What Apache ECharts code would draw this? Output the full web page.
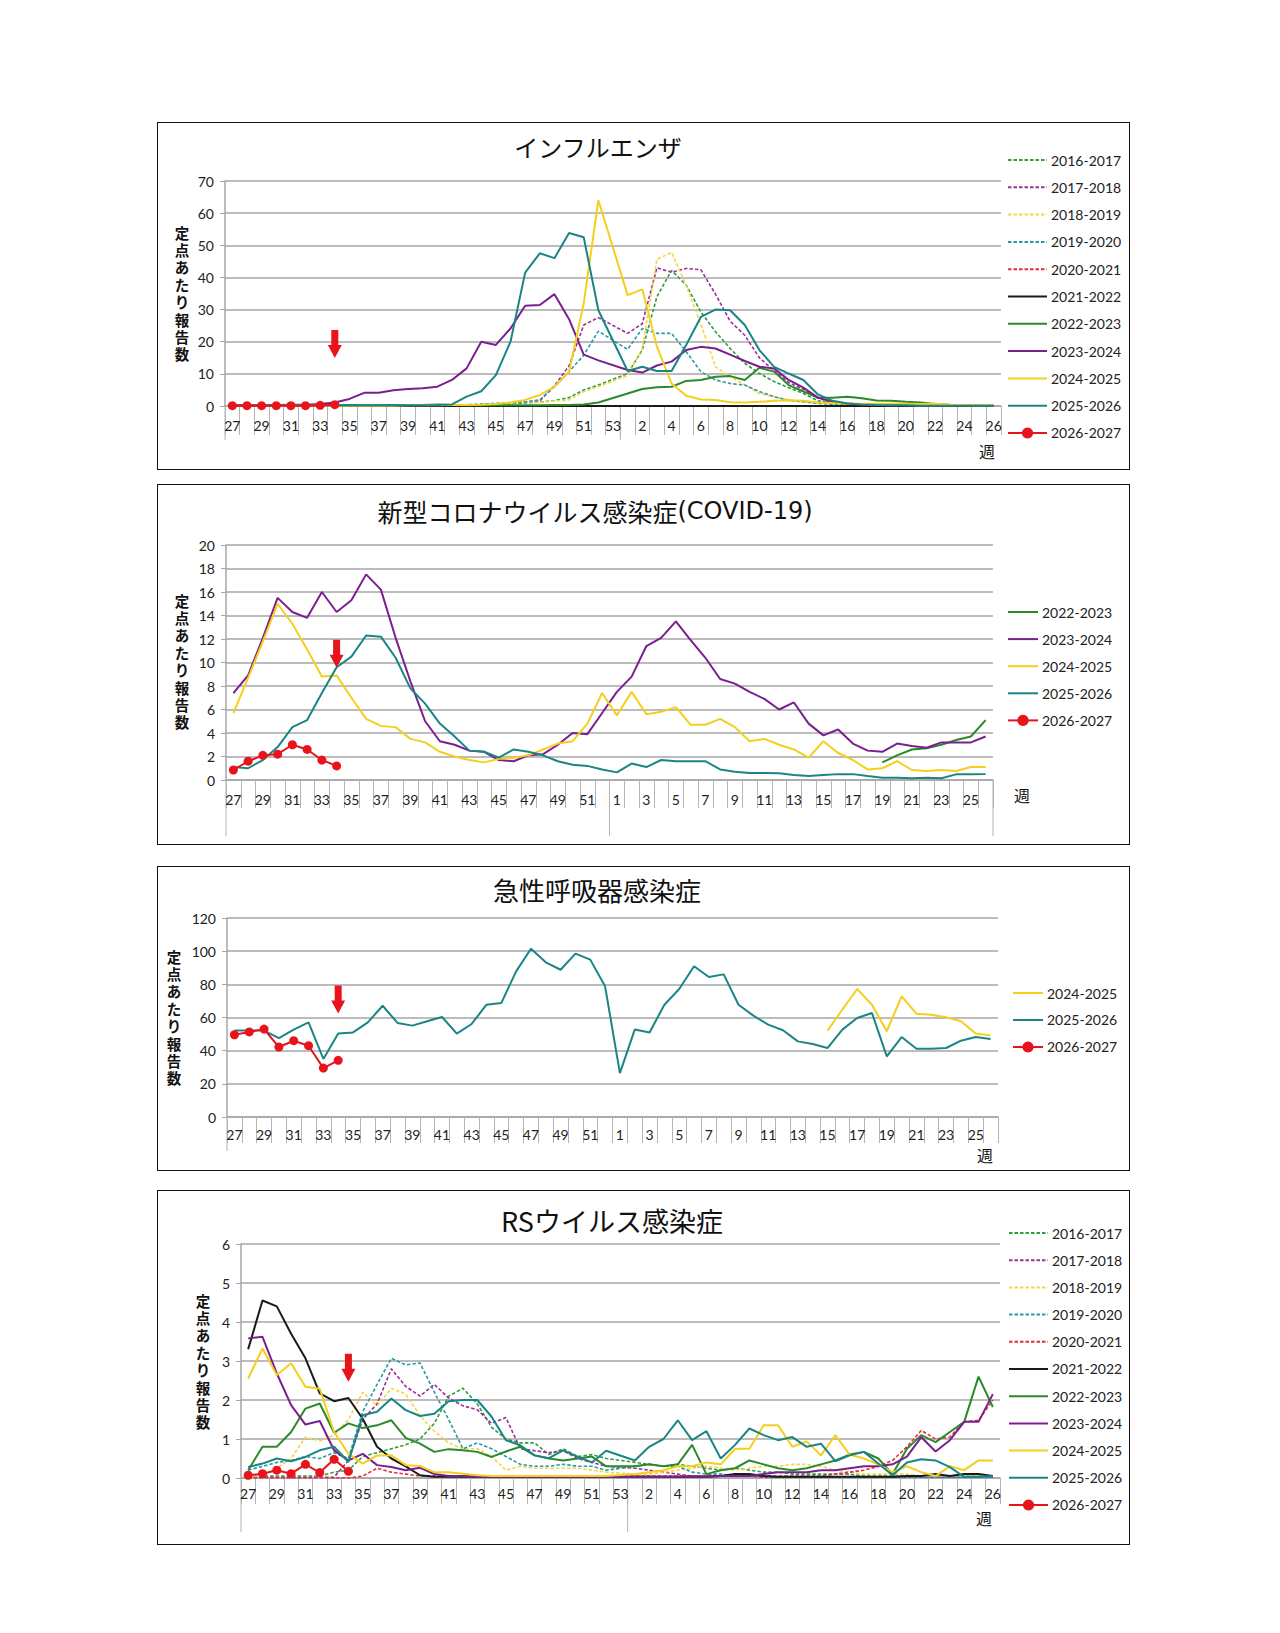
<!DOCTYPE html>
<html lang="ja">
<head>
<meta charset="utf-8">
<title>定点あたり報告数</title>
<script src="https://cdn.jsdelivr.net/npm/echarts@6/dist/echarts.min.js"></script>
<style>
  html, body { margin: 0; padding: 0; background: #fff; }
  body { width: 1280px; height: 1633px; position: relative; overflow: hidden; }
  .chart { position: absolute; }
  .frame { position: absolute; border: 1.6px solid #111; box-sizing: border-box; pointer-events: none; }
</style>
</head>
<body>
<script>
// week categories (with and without week 53)
const weeksA = ['27','28','29','30','31','32','33','34','35','36','37','38','39','40','41','42','43','44','45','46','47','48','49','50','51','52','53',
  '1','2','3','4','5','6','7','8','9','10','11','12','13','14','15','16','17','18','19','20','21','22','23','24','25','26'];
const weeksB = ['27','28','29','30','31','32','33','34','35','36','37','38','39','40','41','42','43','44','45','46','47','48','49','50','51','52',
  '1','2','3','4','5','6','7','8','9','10','11','12','13','14','15','16','17','18','19','20','21','22','23','24','25','26'];

// インフルエンザ (weeks 27..53 / 1..26)
const flu1617 = [0.1,0.1,0.1,0.1,0.1,0.1,0.1,0.1,0.1,0.1,0.1,0.1,0.1,0.1,0.2,0.2,0.3,0.4,0.5,0.7,1.0,1.2,1.7,2.6,5.0,6.5,null,
  10.1,17.4,34.0,42.2,37.6,29.3,23.1,17.9,13.3,10.1,7.6,5.7,3.9,1.6,1.1,0.8,0.5,0.4,0.3,0.3,0.2,0.2,0.1,0.1,0.1,0.1];
const flu1718 = [0.1,0.1,0.1,0.1,0.1,0.1,0.1,0.1,0.1,0.1,0.1,0.1,0.1,0.1,0.2,0.2,0.3,0.4,0.6,0.8,1.1,1.6,6.3,12.5,25.2,27.5,null,
  22.6,25.6,43.0,41.6,42.8,42.4,34.8,26.4,22.0,15.0,11.0,7.3,5.2,2.4,1.1,0.8,0.5,0.3,0.3,0.2,0.2,0.1,0.1,0.1,0.1,0.1];
const flu1819 = [0.1,0.1,0.1,0.1,0.1,0.1,0.1,0.1,0.1,0.1,0.1,0.1,0.1,0.1,0.1,0.1,0.2,0.3,0.5,0.8,1.3,1.1,1.6,1.9,4.5,6.0,null,
  9.5,17.9,45.6,47.8,37.5,25.5,12.2,9.2,6.5,3.9,2.9,1.9,1.3,1.0,0.7,0.5,0.4,0.3,0.3,0.2,0.2,0.2,0.1,0.1,0.1,0.1];
const flu1920 = [0.1,0.1,0.1,0.1,0.1,0.1,0.1,0.1,0.1,0.1,0.1,0.1,0.1,0.1,0.2,0.3,0.4,0.6,0.8,1.0,1.3,1.9,6.0,10.7,15.8,23.3,null,
  17.6,24.1,22.6,22.6,16.9,10.7,8.1,7.0,6.5,4.5,2.9,1.7,1.3,0.8,0.5,0.3,0.2,0.1,0.1,0.1,0.1,0.1,0.1,0.1,0.1,0.1];
const flu2021 = [0,0,0,0,0,0,0,0,0,0,0,0,0,0,0,0,0,0,0,0,0,0,0,0,0,0,0,
  0,0,0,0,0,0,0,0,0,0,0,0,0,0,0,0,0,0,0,0,0,0,0,0,0,0];
const flu2122 = [0,0,0,0,0,0,0,0,0,0,0,0,0,0,0,0,0,0,0,0,0,0,0,0,0,0,null,
  0,0,0,0,0,0,0,0,0,0,0,0,0,0,0,0,0,0,0,0,0,0,0,0,0,0];
const flu2223 = [0.1,0.1,0.1,0.1,0.1,0.1,0.1,0.2,0.2,0.2,0.2,0.3,0.3,0.3,0.5,0.3,0.2,0.2,0.2,0.2,0.2,0.2,0.3,0.3,0.5,1.1,null,
  3.9,5.3,5.8,6.0,7.8,8.1,9.1,9.3,8.1,11.9,10.7,6.5,4.5,2.6,2.6,2.9,2.4,1.7,1.6,1.3,1.1,0.6,0.4,0.3,0.1,0.1];
const flu2324 = [0.3,0.3,0.3,0.3,0.4,0.4,0.6,1.1,2.2,4.1,4.1,4.9,5.3,5.5,6.0,8.1,11.7,20.0,19.0,24.1,31.2,31.4,34.8,27.0,16.0,14.2,null,
  11.2,10.4,12.6,13.8,17.4,18.4,17.9,16.0,14.0,12.2,11.7,8.1,5.7,2.6,1.3,0.8,0.5,0.3,0.2,0.2,0.1,0.1,0.1,0.1,0.1,0.1];
const flu2425 = [0.1,0.1,0.1,0.1,0.1,0.1,0.1,0.1,0.1,0.1,0.1,0.1,0.2,0.2,0.2,0.3,0.3,0.4,0.6,1.1,1.9,3.4,6.0,10.7,31.9,64.0,null,
  34.5,36.3,18.5,7.0,3.2,2.0,1.9,1.2,1.1,1.3,1.6,1.8,1.6,1.1,0.9,0.8,0.7,0.7,0.7,0.7,0.6,0.7,0.4,0.3,0.2,0.2];
const flu2526 = [0.1,0.1,0.1,0.2,0.2,0.2,0.2,0.2,0.3,0.2,0.2,0.3,0.2,0.2,0.3,0.5,2.9,4.6,9.6,20.0,41.5,47.5,46.0,53.8,52.5,29.8,null,
  10.9,12.2,10.9,10.9,19.0,27.7,30.0,29.8,25.2,17.4,12.2,10.1,8.1,3.6,1.6,0.8,0.5,0.3,0.2,0.2,0.1,0.1,0.1,0.1,0.1,0.1];
const flu2627 = [0.1,0.1,0.1,0.1,0.1,0.1,0.2,0.4];

// 新型コロナ (weeks 27..52 / 1..26)
const cov2223 = [null,null,null,null,null,null,null,null,null,null,null,null,null,null,null,null,null,null,null,null,null,null,null,null,null,null,
  null,null,null,null,null,null,null,null,null,null,null,null,null,null,null,null,null,null,1.5,2.1,2.6,2.7,3.0,3.4,3.7,5.1];
const cov2324 = [7.4,8.9,12.1,15.5,14.3,13.8,16.0,14.3,15.3,17.5,16.2,12.1,8.4,5.0,3.3,3.0,2.5,2.4,1.7,1.6,2.1,2.2,3.0,4.0,3.9,5.7,
  7.5,8.8,11.4,12.1,13.5,11.9,10.4,8.6,8.2,7.5,6.9,6.0,6.6,4.8,3.8,4.3,3.1,2.5,2.4,3.1,2.9,2.75,3.2,3.2,3.2,3.7];
const cov2425 = [5.7,8.7,11.8,15.0,13.3,11.1,8.8,8.9,7.0,5.2,4.6,4.5,3.5,3.2,2.4,2.0,1.7,1.5,1.8,1.9,2.1,2.6,3.1,3.3,4.8,7.4,
  5.5,7.5,5.6,5.8,6.2,4.7,4.7,5.2,4.5,3.3,3.5,3.0,2.6,1.9,3.3,2.3,1.7,0.9,1.0,1.6,0.85,0.77,0.85,0.77,1.1,1.1];
const cov2526 = [1.1,1.0,1.7,2.8,4.5,5.1,7.4,9.6,10.5,12.3,12.2,10.4,7.8,6.5,4.8,3.7,2.5,2.4,1.9,2.6,2.4,2.1,1.6,1.3,1.2,0.9,
  0.65,1.4,1.1,1.7,1.6,1.6,1.6,0.9,0.7,0.6,0.6,0.57,0.43,0.34,0.43,0.5,0.5,0.34,0.2,0.2,0.15,0.2,0.15,0.48,0.48,0.5];
const cov2627 = [0.85,1.6,2.1,2.2,3.0,2.6,1.7,1.2];

// 急性呼吸器感染症 (weeks 27..52 / 1..26)
const ari2425 = [null,null,null,null,null,null,null,null,null,null,null,null,null,null,null,null,null,null,null,null,null,null,null,null,null,null,
  null,null,null,null,null,null,null,null,null,null,null,null,null,null,52.0,64.7,77.2,67.7,51.7,72.8,62.3,61.7,60.1,57.7,50.3,49.2];
const ari2526 = [52.1,52.1,52.1,47.6,52.7,57.1,35.0,50.3,51.0,57.1,67.1,56.7,55.1,57.7,60.3,50.3,56.1,67.7,68.7,87.8,101.5,93.3,88.8,98.5,94.9,78.8,
  26.5,52.7,51.0,67.7,77.2,90.9,84.4,86.0,67.7,61.1,55.7,52.3,45.6,44.0,41.6,52.7,59.7,62.7,36.6,48.2,41.2,41.2,41.6,46.0,48.2,47.0];
const ari2627 = [49.6,51.3,53.0,42.2,46.0,43.0,29.5,34.2];

// RSウイルス感染症 (weeks 27..53 / 1..26)
const rs1617 = [0.05,0.05,0.05,0.05,0.05,0.05,0.15,0.2,0.55,0.65,0.75,0.85,1.0,1.4,2.1,2.3,1.9,1.3,1.0,0.9,0.9,0.6,0.75,0.55,0.6,0.5,null,
  0.4,0.35,0.3,0.35,0.3,0.25,0.2,0.25,0.2,0.15,0.15,0.1,0.1,0.1,0.1,0.1,0.05,0.05,0.05,0.05,0.05,0.05,0.05,0.05,0.05,0.05];
const rs1718 = [0.02,0.02,0.02,0.02,0.02,0.02,0.02,0.45,1.5,1.9,2.8,2.35,2.1,2.4,2.05,1.85,1.75,1.4,1.55,0.75,0.7,0.65,0.7,0.5,0.4,0.3,null,
  0.25,0.2,0.15,0.1,0.05,0.05,0.05,0.05,0.05,0.02,0.02,0.02,0.02,0.02,0.02,0.02,0.02,0.02,0.02,0.02,0.02,0.02,0.02,0.02,0.02,0.02];
const rs1819 = [0.05,0.05,0.25,0.5,1.05,0.95,1.1,1.5,2.2,1.85,2.3,2.15,1.6,1.2,0.9,0.75,0.75,0.55,0.2,0.3,0.25,0.25,0.25,0.25,0.2,0.15,null,
  0.1,0.1,0.15,0.2,0.25,0.3,0.25,0.2,0.25,0.3,0.3,0.35,0.35,0.3,0.2,0.15,0.1,0.1,0.1,0.1,0.05,0.05,0.05,0.05,0.05,0.05];
const rs1920 = [0.2,0.3,0.4,0.45,0.55,0.5,0.65,0.5,1.7,2.4,3.07,2.9,2.95,2.2,1.5,0.75,0.9,0.75,0.55,0.35,0.3,0.3,0.35,0.3,0.3,0.2,null,
  0.3,0.35,0.3,0.3,0.15,0.1,0.1,0.05,0.05,0.05,0.02,0.02,0.02,0.02,0.02,0.02,0.02,0.02,0.02,0.02,0.02,0.02,0.02,0.02,0.02,0.02];
const rs2021 = [0,0,0,0,0,0,0,0,0.05,0.25,0.15,0.1,0.05,0.05,0.05,0.05,0.05,0.05,0.05,0.05,0.05,0.05,0.05,0.05,0.05,0.05,0.05,
  0.05,0.05,0.05,0.05,0.05,0.05,0.05,0.05,0.05,0.05,0.05,0.05,0.05,0.05,0.1,0.15,0.2,0.3,0.45,0.8,1.22,1.0,1.05,1.44,1.48,2.0];
const rs2122 = [3.3,4.55,4.4,3.7,3.07,2.17,1.97,2.05,1.52,0.8,0.5,0.3,0.07,0.03,0.03,0.03,0.03,0.03,0.03,0.03,0.03,0.03,0.03,0.03,0.03,0.03,null,
  0.03,0.03,0.03,0.03,0.03,0.03,0.05,0.1,0.1,0.05,0.03,0.03,0.03,0.03,0.03,0.03,0.03,0.03,0.03,0.05,0.05,0.1,0.05,0.1,0.1,0.05];
const rs2223 = [0.2,0.8,0.8,1.18,1.78,1.91,1.16,1.4,1.28,1.35,1.48,1.03,0.88,0.67,0.74,0.71,0.67,0.54,0.68,0.8,0.58,0.5,0.45,0.5,0.55,0.3,null,
  0.3,0.35,0.3,0.35,0.85,0.1,0.2,0.25,0.45,0.35,0.25,0.2,0.25,0.35,0.45,0.6,0.67,0.5,0.1,0.75,1.1,0.92,1.18,1.44,2.6,1.82];
const rs2324 = [3.58,3.62,2.68,1.87,1.37,1.46,0.71,0.45,0.62,0.33,0.28,0.2,0.26,0.1,0.05,0.05,0.03,0.03,0.03,0.03,0.03,0.03,0.03,0.03,0.03,0.03,null,
  0.03,0.03,0.03,0.03,0.03,0.03,0.05,0.05,0.05,0.1,0.15,0.15,0.15,0.2,0.2,0.25,0.3,0.3,0.35,0.55,1.05,0.68,0.97,1.44,1.44,2.15];
const rs2425 = [2.55,3.32,2.64,2.94,2.34,2.29,1.18,0.62,0.37,0.58,0.58,0.33,0.31,0.15,0.15,0.11,0.07,0.05,0.05,0.05,0.05,0.05,0.05,0.05,0.05,0.05,null,
  0.1,0.15,0.2,0.3,0.3,0.4,0.35,0.75,0.75,1.35,1.35,0.8,0.94,0.58,1.1,0.6,0.5,0.35,0.15,0.3,0.15,0.05,0.3,0.2,0.45,0.45];
const rs2526 = [0.28,0.37,0.5,0.43,0.54,0.71,0.8,0.41,1.61,1.7,2.04,1.74,1.59,1.65,1.97,2.0,2.0,1.57,0.97,0.84,0.58,0.51,0.71,0.55,0.4,0.7,null,
  0.45,0.8,1.0,1.48,0.97,1.2,0.5,0.85,1.27,1.1,0.97,1.05,0.8,0.88,0.43,0.58,0.67,0.37,0.07,0.4,0.48,0.45,0.28,0.03,0.03,0.05];
const rs2627 = [0.07,0.11,0.2,0.11,0.35,0.14,0.48,0.17];

const NUM_FONT = 'Lato, "Noto Sans CJK JP", sans-serif';
const JP_FONT = '"Noto Sans CJK JP", sans-serif';
const GRID_GRAY = '#a6a6a6';

const seasonStyle = {
    '2016-2017': {color: '#2e9e3e', dashed: true},
    '2017-2018': {color: '#9b2f9b', dashed: true},
    '2018-2019': {color: '#f5d547', dashed: true},
    '2019-2020': {color: '#2b9aa6', dashed: true},
    '2020-2021': {color: '#e0303c', dashed: true},
    '2021-2022': {color: '#1a1a1a'},
    '2022-2023': {color: '#2a8a2a'},
    '2023-2024': {color: '#7a1f8f'},
    '2024-2025': {color: '#f4cf1c'},
    '2025-2026': {color: '#1b8585'},
    '2026-2027': {color: '#e8141c', dot: true}
};

const panels = [
    {
        rect: [157, 122, 973, 348], title: 'インフルエンザ', titleSize: 24, titleAt: [441, 12],
        weeks: weeksA, grid: {left: 68, right: 129, top: 59, bottom: 64}, max: 70, interval: 10,
        seasons: [['2016-2017', flu1617], ['2017-2018', flu1718], ['2018-2019', flu1819], ['2019-2020', flu1920],
            ['2020-2021', flu2021], ['2021-2022', flu2122], ['2022-2023', flu2223], ['2023-2024', flu2324],
            ['2024-2025', flu2425], ['2025-2026', flu2526], ['2026-2027', flu2627]],
        arrowAt: 19.3, legend: {left: 850, top: 31, itemWidth: 39, itemGap: 13.3},
        yName: [25, 172], weekMark: [830, 329], tickLen: 29, labelMargin: 12,
        longTicks: [['27', 34], ['1', 34]]
    },
    {
        rect: [157, 484, 973, 361], title: '新型コロナウイルス感染症{l|(COVID-19)}', titleSize: 25, titleAt: [438, 14],
        weeks: weeksB, grid: {left: 69, right: 137, top: 61, bottom: 65}, max: 20, interval: 2,
        seasons: [['2022-2023', cov2223], ['2023-2024', cov2324], ['2024-2025', cov2425],
            ['2025-2026', cov2526], ['2026-2027', cov2627]],
        arrowAt: 10.75, legend: {left: 850, top: 121, itemWidth: 30, itemGap: 13.1},
        yName: [25, 178], weekMark: [865, 311], tickLen: 28, labelMargin: 12,
        longTicks: [['27', 56], ['1', 56], ['end', 56]]
    },
    {
        rect: [157, 866, 973, 305], title: '急性呼吸器感染症', titleSize: 26, titleAt: [440, 10],
        weeks: weeksB, grid: {left: 70, right: 132, top: 52, bottom: 54}, max: 120, interval: 20,
        seasons: [['2024-2025', ari2425], ['2025-2026', ari2526], ['2026-2027', ari2627]],
        arrowAt: 70.8, legend: {left: 855, top: 120, itemWidth: 30, itemGap: 13},
        yName: [17, 152], weekMark: [828, 289], tickLen: 26, labelMargin: 10,
        longTicks: [['27', 34]]
    },
    {
        rect: [157, 1190, 973, 355], title: 'RSウイルス感染症', titleSize: 27, titleAt: [455, 17],
        weeks: weeksA, grid: {left: 84, right: 130, top: 54, bottom: 67}, max: 6, interval: 1,
        seasons: [['2016-2017', rs1617], ['2017-2018', rs1718], ['2018-2019', rs1819], ['2019-2020', rs1920],
            ['2020-2021', rs2021], ['2021-2022', rs2122], ['2022-2023', rs2223], ['2023-2024', rs2324],
            ['2024-2025', rs2425], ['2025-2026', rs2526], ['2026-2027', rs2627]],
        arrowAt: 2.83, legend: {left: 851, top: 36, itemWidth: 39, itemGap: 13.2},
        yName: [46, 172], weekMark: [827, 328], tickLen: 26, labelMargin: 8,
        longTicks: [['27', 54], ['1', 54]]
    }
];

function seasonSeries(name, data) {
    const st = seasonStyle[name];
    return {
        name: name, type: 'line', data: data, connectNulls: true, silent: true,
        symbol: st.dot ? 'circle' : 'none', symbolSize: 9, showSymbol: !!st.dot,
        lineStyle: {color: st.color, width: st.dashed ? 1.6 : 2, type: st.dashed ? [3.5, 2] : 'solid'},
        itemStyle: {color: st.color},
        emphasis: {disabled: true},
        z: st.dot ? 5 : 2
    };
}

function makeChart(p) {
    const [l, t, w, h] = p.rect;
    const el = document.createElement('div');
    el.className = 'chart';
    el.style.cssText = `left:${l}px;top:${t}px;width:${w}px;height:${h}px`;
    document.body.appendChild(el);
    const frame = document.createElement('div');
    frame.className = 'frame';
    frame.style.cssText = `left:${l}px;top:${t}px;width:${w}px;height:${h}px`;
    document.body.appendChild(frame);

    const series = p.seasons.map(s => seasonSeries(s[0], s[1]));
    const current = series[series.length - 1];
    current.markPoint = {
        silent: true,
        symbol: 'path://M3.5,0 L10.5,0 L10.5,15 L14,15 L7,28 L0,15 L3.5,15 Z',
        symbolSize: [14, 28],
        itemStyle: {color: '#e8141c'},
        label: {show: false},
        data: [{coord: ['34', p.arrowAt]}]
    };

    // plain line icons in the legend, dot only for the current season
    const legendData = p.seasons.map(s => seasonStyle[s[0]].dot
        ? {name: s[0]}
        : {name: s[0], itemStyle: {opacity: 0}});

    const texts = [
        {
            id: 'yname', type: 'text', x: p.yName[0], y: p.yName[1], silent: true,
            style: {
                text: '定\n点\nあ\nた\nり\n報\n告\n数', fontSize: 14.5, fontWeight: 'bold',
                fontFamily: NUM_FONT, lineHeight: 17.4, align: 'center', verticalAlign: 'middle', fill: '#111'
            }
        },
        {
            id: 'week', type: 'text', x: p.weekMark[0], y: p.weekMark[1], silent: true,
            style: {text: '週', fontSize: 16, fontFamily: JP_FONT, align: 'center', verticalAlign: 'middle', fill: '#111'}
        }
    ];

    const chart = echarts.init(el, null, {renderer: 'svg', width: w, height: h});
    chart.setOption({
        animation: false,
        textStyle: {fontFamily: NUM_FONT},
        title: {
            text: p.title, left: p.titleAt[0], top: p.titleAt[1], textAlign: 'center', padding: 0,
            textStyle: {
                fontFamily: JP_FONT, fontSize: p.titleSize, fontWeight: 'normal', color: '#111',
                rich: {l: {fontFamily: '"DejaVu Sans", sans-serif', fontSize: 24, color: '#111'}}
            }
        },
        grid: p.grid,
        legend: {
            orient: 'vertical', left: p.legend.left, top: p.legend.top, padding: 0,
            itemWidth: p.legend.itemWidth, itemHeight: 14, itemGap: p.legend.itemGap,
            selectedMode: false, data: legendData,
            textStyle: {fontFamily: NUM_FONT, fontSize: 14, color: '#222', padding: [0, 0, 0, -1]}
        },
        xAxis: {
            type: 'category', data: p.weeks, boundaryGap: true,
            axisLine: {lineStyle: {color: GRID_GRAY, width: 1.5}},
            axisTick: {show: true, interval: 0, length: p.tickLen, lineStyle: {color: '#b4b4b4', width: 1}},
            axisLabel: {interval: 1, margin: p.labelMargin, fontSize: 14, color: '#222', fontFamily: NUM_FONT}
        },
        yAxis: {
            type: 'value', min: 0, max: p.max, interval: p.interval,
            axisLine: {show: true, lineStyle: {color: GRID_GRAY, width: 1.5}},
            axisTick: {show: true, length: 5, lineStyle: {color: GRID_GRAY}},
            splitLine: {lineStyle: {color: GRID_GRAY, width: 1.5}},
            axisLabel: {fontSize: 14, color: '#222', margin: 11, fontFamily: NUM_FONT}
        },
        graphic: {elements: texts},
        series: series
    });

    // longer separators below the axis (start of axis, year change, end of axis)
    const x0 = chart.convertToPixel({xAxisIndex: 0}, p.weeks[0]);
    const x1 = chart.convertToPixel({xAxisIndex: 0}, p.weeks[1]);
    const band = x1 - x0;
    const yAxisPx = chart.convertToPixel({yAxisIndex: 0}, 0);
    const lines = p.longTicks.map((lt, k) => {
        let x;
        if (lt[0] === 'end') {
            x = chart.convertToPixel({xAxisIndex: 0}, p.weeks[p.weeks.length - 1]) + band / 2;
        } else {
            x = chart.convertToPixel({xAxisIndex: 0}, lt[0]) - band / 2;
        }
        return {
            id: 'sep' + k, type: 'line', silent: true,
            shape: {x1: x, y1: yAxisPx, x2: x, y2: yAxisPx + lt[1]},
            style: {stroke: '#b4b4b4', lineWidth: 1}
        };
    });
    chart.setOption({graphic: {elements: texts.concat(lines)}});
    return chart;
}

panels.forEach(makeChart);
</script>
</body>
</html>
